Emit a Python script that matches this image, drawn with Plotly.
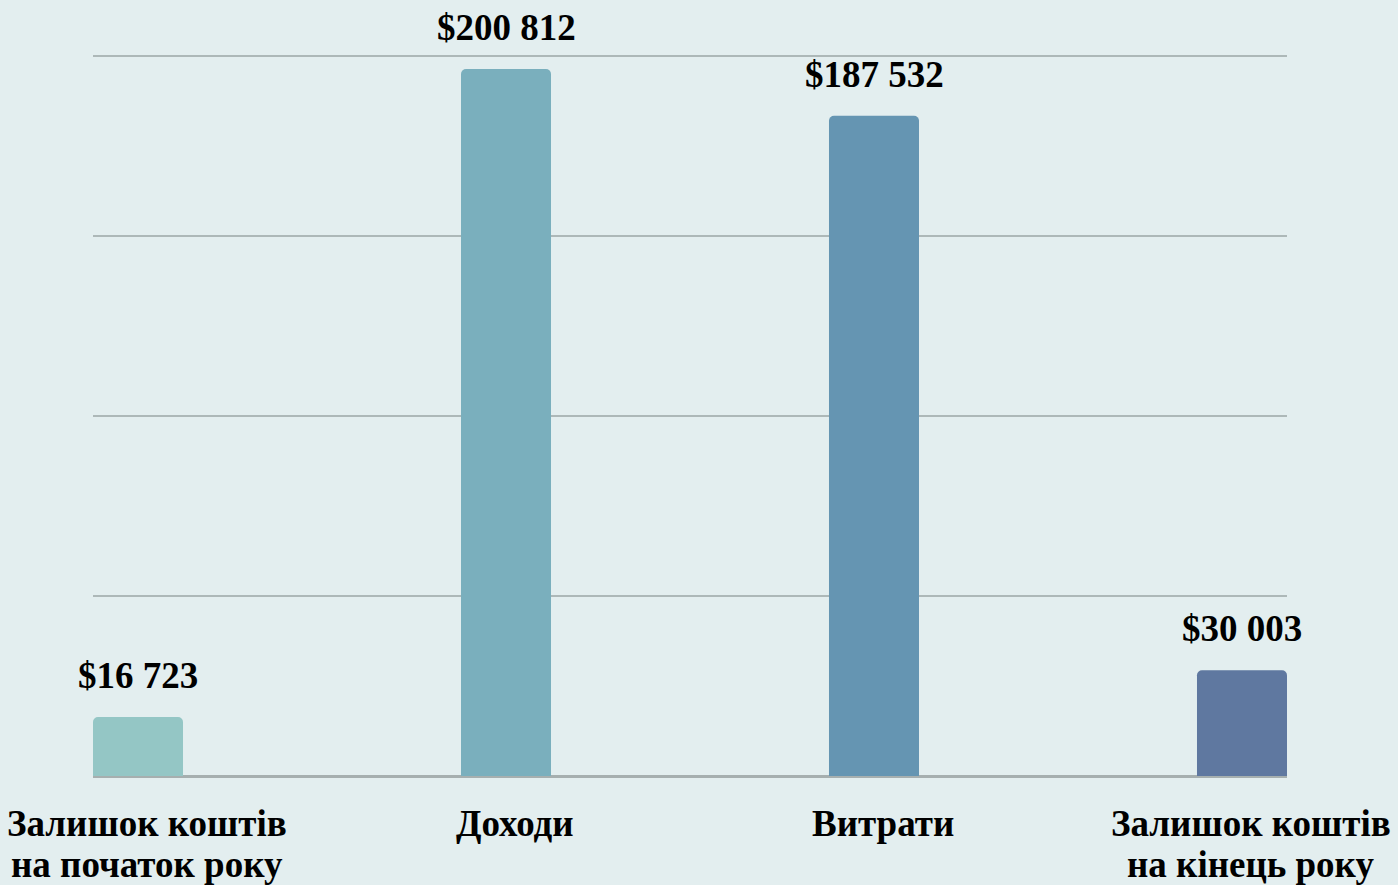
import plotly.graph_objects as go

# Data
categories = ["Залишок коштів<br>на початок року", "Доходи", "Витрати", "Залишок коштів<br>на кінець року"]
values = [16723, 200812, 187532, 30003]
value_labels = ["$16 723", "$200 812", "$187 532", "$30 003"]
bar_colors = ["#94C6C5", "#7AAFBD", "#6595B2", "#5F78A0"]

BG = "#E3EEEF"
GRID = "#ADB8B8"
FONT = "Liberation Serif"

x_pos = list(range(len(categories)))
bar_w = 0.2446

# axis scale: plot height 776 px, tallest bar ~707 px, grid every ~180 px
plot_h = 776
ymax = max(values) * plot_h / 707
dtick = ymax * 180 / plot_h

fig = go.Figure()
fig.add_trace(go.Bar(
    x=x_pos, y=values, width=bar_w,
    marker=dict(color=bar_colors, line=dict(width=0)),
    hoverinfo="skip",
))

# value labels above bars
for xi, v, lab in zip(x_pos, values, value_labels):
    fig.add_annotation(
        x=xi, y=v, text=lab, showarrow=False,
        yanchor="bottom", yshift=19,
        font=dict(family=FONT, size=37, color="black", weight="bold"),
    )

# category labels below axis
for xi, cat in zip(x_pos, categories):
    for li, line in enumerate(cat.split("<br>")):
        fig.add_annotation(
            x=xi, y=0, text=line, showarrow=False,
            yanchor="middle", yshift=-47 - 41 * li, xshift=9,
            font=dict(family=FONT, size=37, color="black", weight="bold"),
        )

fig.update_layout(
    width=1398, height=885,
    margin=dict(l=93, r=111, t=0, b=885 - plot_h, pad=0),
    paper_bgcolor=BG, plot_bgcolor=BG,
    showlegend=False,
    barcornerradius=5,
    xaxis=dict(range=[-bar_w / 2, 3 + bar_w / 2], showgrid=False, zeroline=False,
               showticklabels=False, ticks="", showline=False, fixedrange=True),
    yaxis=dict(range=[0, ymax], tick0=0, dtick=dtick, showgrid=True, gridcolor=GRID,
               gridwidth=2, zeroline=True, zerolinecolor="#A6AFAF", zerolinewidth=3,
               showticklabels=False, ticks="", showline=False, fixedrange=True),
)

fig.write_html(
    "out.html",
    config={"displayModeBar": False},
    post_script=(
        "document.body.style.margin='0';"
        "document.body.style.padding='0';"
        "document.body.style.overflow='hidden';"
        "document.body.style.background='" + BG + "';"
    ),
)
